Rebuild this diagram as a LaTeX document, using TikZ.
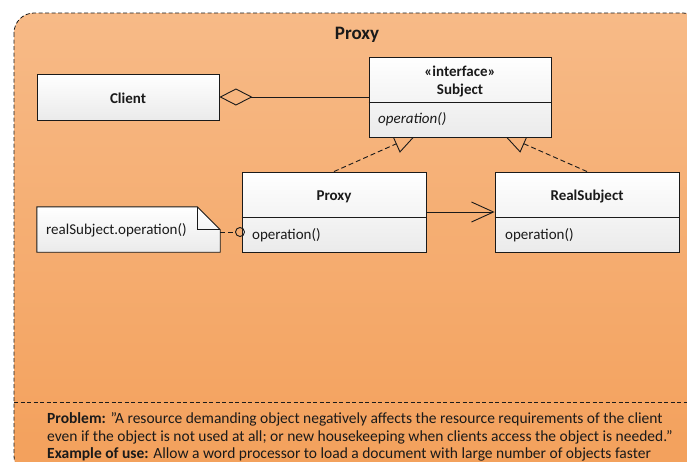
\documentclass[tikz,border=0pt]{standalone}
\usepackage{fontspec}
\setmainfont{Carlito}
\usetikzlibrary{arrows.meta,calc}
\pgfdeclarelayer{frame}
\pgfdeclarelayer{links}
\pgfsetlayers{frame,links,main}
\definecolor{paneltop}{HTML}{F7BA87}
\definecolor{panelbot}{HTML}{F3A05B}
\definecolor{ink}{HTML}{1A1A1A}
\begin{document}
\begin{tikzpicture}[x=1pt,y=-1pt,
  txt/.style={font=\fontsize{15}{18}\selectfont, inner sep=0pt, text=ink},
  bold/.style={txt, font=\fontsize{15}{18}\selectfont\bfseries},
  ital/.style={txt, font=\fontsize{15}{18}\selectfont\itshape},
  desc/.style={txt, font=\fontsize{15.5}{18}\selectfont, anchor=base west},
  classbox/.style={draw=ink, line width=0.9pt, top color=white, bottom color=black!8,
                   inner sep=0pt, minimum height=#1},
  link/.style={draw=ink, line width=0.9pt},
  dashlink/.style={link, dash pattern=on 5pt off 3pt}
]
\useasboundingbox (0,0) rectangle (687,461);

% ---- classes ----
\node[classbox=46, minimum width=182] (client) at (128,97) {};
\node[bold, anchor=base] (clientname) at (128,103) {Client};

\node[classbox=80, minimum width=182] (subject) at (460,97) {};
\draw[link] ($(subject.north west)+(0,46)$) -- ($(subject.north east)+(0,46)$);
\node[bold, anchor=base] (stereo) at (460,76) {«interface»};
\node[bold, anchor=base] (subjname) at (460,94) {Subject};
\node[ital, anchor=base west] (subjop) at (378,123) {operation()};

\node[classbox=80, minimum width=184] (proxy) at (334,212) {};
\draw[link] ($(proxy.north west)+(0,46)$) -- ($(proxy.north east)+(0,46)$);
\node[bold, anchor=base] (proxyname) at (334,200) {Proxy};
\node[txt, anchor=base west] (proxyop) at (252,239) {operation()};

\node[classbox=80, minimum width=184] (real) at (587,212) {};
\draw[link] ($(real.north west)+(0,46)$) -- ($(real.north east)+(0,46)$);
\node[bold, anchor=base] (realname) at (587,200) {RealSubject};
\node[txt, anchor=base west] (realop) at (505,239) {operation()};

% ---- note with folded corner ----
\node[inner sep=0pt, minimum width=183, minimum height=45] (note) at (128.5,229.5) {};
\path[draw=ink, line width=0.9pt, top color=white, bottom color=black!8]
  (note.south west) -- (note.north west) -- ($(note.north east)+(-23,0)$)
  -- ($(note.north east)+(0,23)$) -- (note.south east) -- cycle;
\draw[link] ($(note.north east)+(-23,0)$) -- ($(note.north east)+(-23,23)$)
  -- ($(note.north east)+(0,23)$);
\node[txt, anchor=base west] (notetext) at (46,234) {realSubject.operation()};

% ---- connectors ----
\node[circle, draw=ink, line width=0.9pt, minimum size=9pt, inner sep=0pt] (pin) at (240,232) {};
\draw[dashlink] (note.east |- pin) -- (pin.west);

\draw[link, {Diamond[open,length=33pt,width=17pt]}-] (client.east) -- (subject.west);
\draw[link, -{Straight Barb[length=22pt,width=20pt]}] (proxy.east) -- (real.west);

\coordinate (tipL) at (416,135);
\coordinate (tipR) at (504,135);
\begin{pgfonlayer}{links}
\draw[dashlink, -{Triangle[open,length=22pt,width=19pt]}] (proxy.north) -- (tipL);
\draw[dashlink, -{Triangle[open,length=22pt,width=19pt]}] (real.north) -- (tipR);
\end{pgfonlayer}

% ---- frame, title and description ----
\begin{pgfonlayer}{frame}
\clip (0,0) rectangle (687,461);
\path[draw=ink, line width=0.8pt, dash pattern=on 4pt off 2.5pt, rounded corners=20pt,
      top color=paneltop, bottom color=panelbot] (14,13) rectangle (703,476);
\draw[line width=0.8pt, draw=ink, dash pattern=on 4pt off 2.5pt] (14,402) -- (703,402);
\end{pgfonlayer}
\node[txt, font=\fontsize{19}{22}\selectfont\bfseries, anchor=base] (title) at (357,39) {Proxy};

\node[desc] (line1) at (47,423)
  {\textbf{Problem:} ”A resource demanding object negatively affects the resource requirements of the client};
\node[desc] (line2) at (47,441)
  {even if the object is not used at all; or new housekeeping when clients access the object is needed.”};
\node[desc] (line3) at (47,458.5)
  {\textbf{Example of use:} Allow a word processor to load a document with large number of objects faster};
\end{tikzpicture}
\end{document}
